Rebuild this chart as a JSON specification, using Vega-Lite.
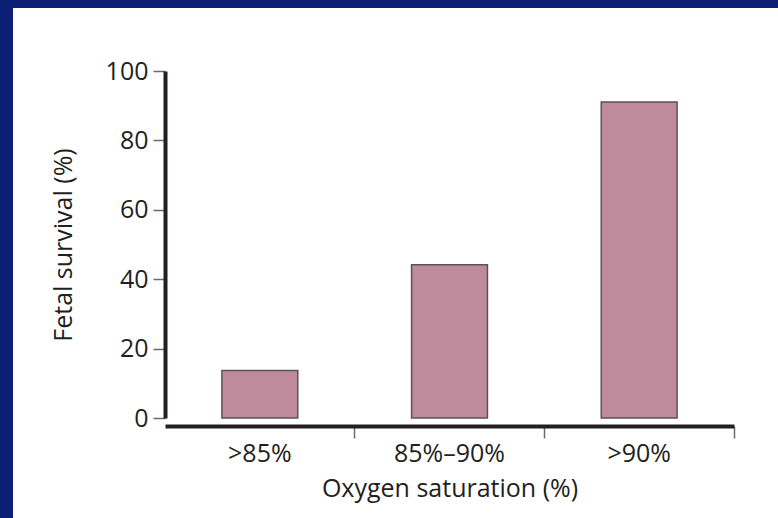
{
  "$schema": "https://vega.github.io/schema/vega-lite/v6.json",
  "autosize": "none",
  "width": 765,
  "height": 510,
  "padding": {"left": 13, "top": 8, "right": 0, "bottom": 0},
  "background": "#0b1f74",
  "config": {
    "view": {"fill": "#ffffff", "stroke": null},
    "font": "Open Sans",
    "axis": {"grid": false, "labelColor": "#231f20", "titleColor": "#231f20", "titleFontWeight": "normal", "labelFontSize": 25, "titleFontSize": 25, "labelFont": "Open Sans", "titleFont": "Open Sans"}
  },
  "data": {
    "values": [
      {"category": ">85%", "survival": 13.7},
      {"category": "85%–90%", "survival": 44.2},
      {"category": ">90%", "survival": 91.1}
    ]
  },
  "mark": {"type": "bar", "fill": "#bf8a9b", "stroke": "#5b5356", "strokeWidth": 1.5},
  "encoding": {
    "x": {
      "field": "category",
      "type": "nominal",
      "sort": null,
      "scale": {"range": [152, 721], "paddingInner": 0.6, "paddingOuter": 0.3},
      "axis": {
        "title": "Oxygen saturation (%)",
        "labelAngle": 0,
        "offset": -92,
        "bandPosition": 1.75,
        "domainColor": "#231f20",
        "domainWidth": 4,
        "tickColor": "#6d6a6b",
        "tickWidth": 1.5,
        "tickSize": 12,
        "labelPadding": 3,
        "titlePadding": 10
      }
    },
    "y": {
      "field": "survival",
      "type": "quantitative",
      "scale": {"domain": [0, 100], "range": [410, 63], "nice": false, "zero": true},
      "axis": {
        "title": "Fetal survival (%)",
        "values": [0, 20, 40, 60, 80, 100],
        "offset": -152,
        "domainColor": "#231f20",
        "domainWidth": 4,
        "tickColor": "#6d6a6b",
        "tickWidth": 1.5,
        "tickSize": 12,
        "labelPadding": 5,
        "titlePadding": 29
      }
    }
  }
}
